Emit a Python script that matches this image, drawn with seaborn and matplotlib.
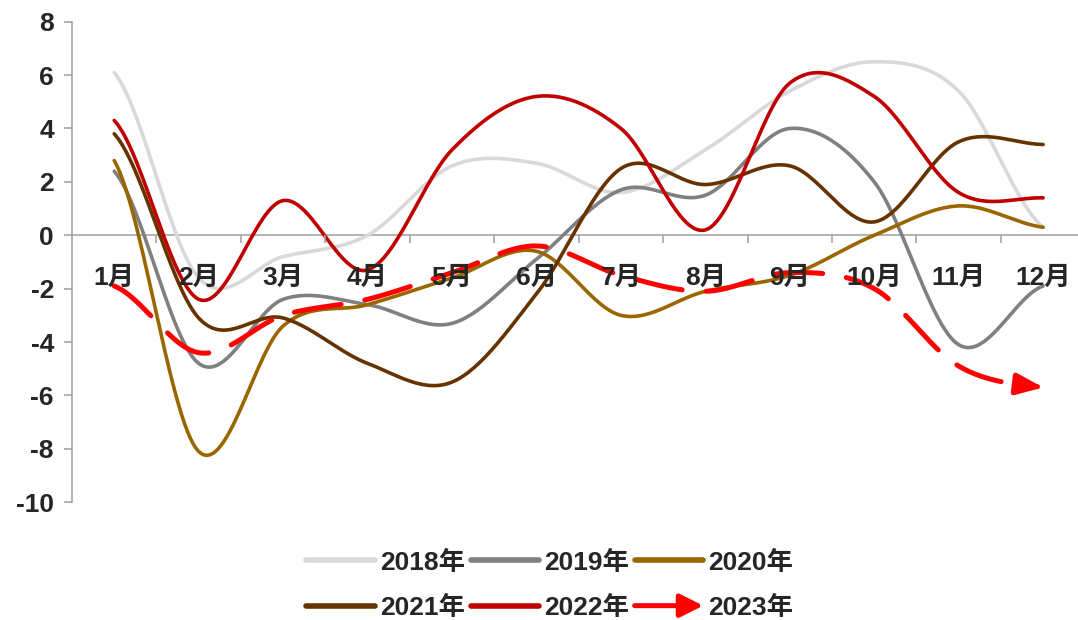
import numpy as np
import pandas as pd
import seaborn as sns
import matplotlib.pyplot as plt
from matplotlib.patches import FancyArrowPatch
from matplotlib.legend_handler import HandlerBase
from matplotlib.lines import Line2D

months = ['1月', '2月', '3月', '4月', '5月', '6月', '7月', '8月', '9月', '10月', '11月', '12月']
years = ['2018年', '2019年', '2020年', '2021年', '2022年', '2023年']

v2018 = [6.1, -1.6, -0.8, 0.0, 2.6, 2.7, 1.6, 3.2, 5.4, 6.5, 5.4, 0.3]
v2019 = [2.4, -4.8, -2.4, -2.6, -3.3, -0.9, 1.7, 1.5, 4.0, 2.0, -4.1, -1.9]
v2020 = [2.8, -8.1, -3.4, -2.6, -1.6, -0.6, -3.0, -2.1, -1.5, 0.0, 1.1, 0.3]
v2021 = [3.8, -3.1, -3.1, -4.8, -5.5, -2.2, 2.5, 1.9, 2.6, 0.5, 3.5, 3.4]
v2022 = [4.3, -2.4, 1.3, -1.3, 3.2, 5.2, 4.0, 0.2, 5.7, 5.2, 1.6, 1.4]
v2023 = [-1.9, -4.4, -3.0, -2.4, -1.4, -0.4, -1.5, -2.1, -1.4, -2.0, -4.9, -5.7]

colors = ['#D9D9D9', '#808080', '#996600', '#663300', '#C00000', '#FF0000']


def smooth(vals, n=30):
    # excel style smoothed line (catmull-rom through the monthly points)
    p = np.array(vals, dtype=float)
    p = np.concatenate([[p[0]], p, [p[-1]]])
    xs, ys = [], []
    for i in range(1, len(p) - 2):
        p0, p1, p2, p3 = p[i - 1], p[i], p[i + 1], p[i + 2]
        t = np.linspace(0, 1, n, endpoint=False)
        y = 0.5 * ((2 * p1) + (-p0 + p2) * t + (2 * p0 - 5 * p1 + 4 * p2 - p3) * t ** 2
                   + (-p0 + 3 * p1 - 3 * p2 + p3) * t ** 3)
        xs.extend(i + t)
        ys.extend(y)
    xs.append(len(p) - 2)
    ys.append(p[-2])
    return np.array(xs), np.array(ys)


frames = []
for name, vals in zip(years, [v2018, v2019, v2020, v2021, v2022, v2023]):
    sx, sy = smooth(vals)
    frames.append(pd.DataFrame({'x': sx, 'y': sy, 'year': name}))
df = pd.concat(frames, ignore_index=True)

sns.set_theme(style='white')
plt.rcParams['font.family'] = ['Liberation Sans', 'Noto Sans CJK SC']
plt.rcParams['font.weight'] = 'bold'
plt.rcParams['axes.unicode_minus'] = False

fig = plt.figure(figsize=(10.78, 6.2), dpi=100)
ax = fig.add_axes([0.0668, 0.19, 0.940, 0.775])

solid = df[df['year'] != '2023年']
sns.lineplot(data=solid, x='x', y='y', hue='year', palette=colors[:5], sort=False,
             estimator=None, linewidth=2.6, legend=False, ax=ax)

d23 = df[df['year'] == '2023年']
sns.lineplot(data=d23.iloc[:-2], x='x', y='y', color=colors[5], sort=False, estimator=None,
             linewidth=3.6, ax=ax)
ax.lines[-1].set_linestyle((0, (9.5, 4.8)))
ax.lines[-1].set_dash_capstyle('round')
ax.annotate('', xy=(d23['x'].iloc[-1], d23['y'].iloc[-1]),
            xytext=(d23['x'].iloc[-9], d23['y'].iloc[-9]),
            arrowprops=dict(arrowstyle='-|>,head_length=0.5,head_width=0.2', color=colors[5],
                            lw=3.6, mutation_scale=32, shrinkA=0, shrinkB=0))

ax.set_xlim(0.5, 12.5)
ax.set_ylim(-10, 8)
ax.set_yticks(range(-10, 9, 2))
ax.set_xticks(range(1, 13))
ax.set_xticklabels(months)
ax.set_xticks(np.arange(1.5, 12.5, 1), minor=True)
ax.set_xlabel('')
ax.set_ylabel('')

for s in ['top', 'right']:
    ax.spines[s].set_visible(False)
ax.spines['bottom'].set_position(('data', 0))
for s in ['left', 'bottom']:
    ax.spines[s].set_color('#A6A6A6')
    ax.spines[s].set_linewidth(1.2)
    ax.spines[s].set_zorder(1)
# month labels sit on top of the lines
ax.xaxis.set_zorder(5)

ax.tick_params(axis='x', which='major', length=0, pad=22, labelsize=19)
ax.tick_params(axis='x', which='minor', length=6, width=1.2, color='#A6A6A6', direction='out', bottom=True)
ax.tick_params(axis='y', length=6, width=1.2, color='#A6A6A6', direction='out', left=True, labelsize=19, pad=7)
for lab in ax.get_xticklabels() + ax.get_yticklabels():
    lab.set_fontweight('bold')


class ArrowHandler(HandlerBase):
    def create_artists(self, legend, orig_handle, xdescent, ydescent, width, height, fontsize, trans):
        y = height / 2 - ydescent
        arr = FancyArrowPatch((-xdescent, y), (width - xdescent, y),
                              arrowstyle='-|>,head_length=0.5,head_width=0.25',
                              mutation_scale=28, color=colors[5], lw=3.6,
                              shrinkA=0, shrinkB=0, capstyle='round', transform=trans)
        return [arr]


handles = [Line2D([], [], color=c, linewidth=4, solid_capstyle='round') for c in colors[:5]]
arrow_handle = Line2D([], [], color=colors[5])
handles.append(arrow_handle)
# legend fills column by column, so reorder to read row by row
order = [0, 3, 1, 4, 2, 5]
fig.legend([handles[i] for i in order], [years[i] for i in order], loc='center',
           bbox_to_anchor=(550 / 1078, 0.056), ncol=3, frameon=False,
           prop={'size': 19, 'weight': 'bold'}, handlelength=2.6,
           handletextpad=0.2, columnspacing=0.2, labelspacing=0.8,
           handler_map={arrow_handle: ArrowHandler()})

fig.savefig('out.png', dpi=100)
